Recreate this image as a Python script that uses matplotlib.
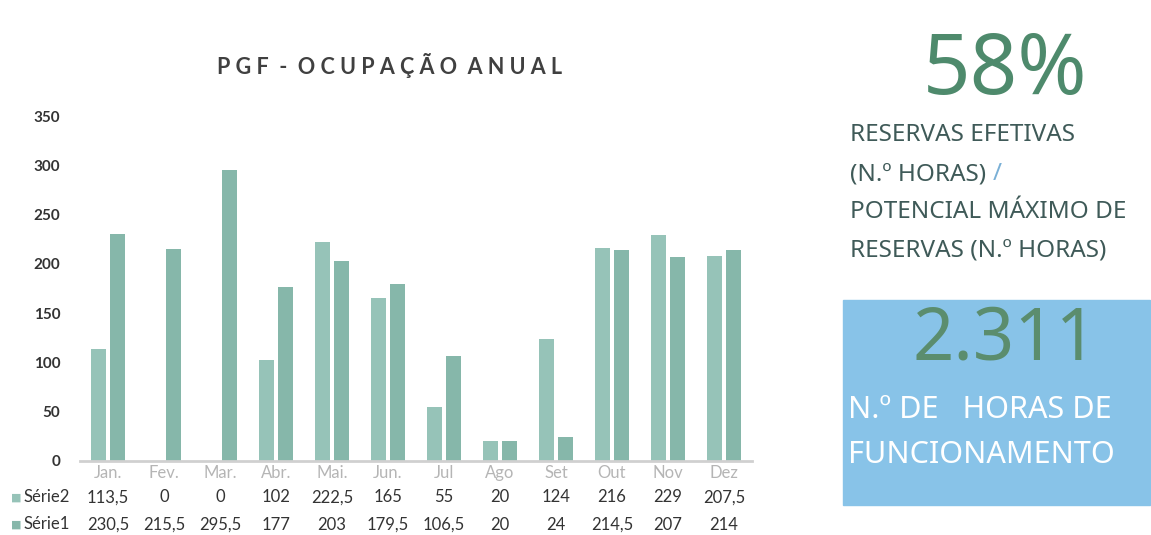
import matplotlib
matplotlib.use("Agg")
import matplotlib.pyplot as plt
from matplotlib.patches import Rectangle
from matplotlib.transforms import blended_transform_factory

# dados
meses = ["Jan.", "Fev.", "Mar.", "Abr.", "Mai.", "Jun.", "Jul", "Ago", "Set", "Out", "Nov", "Dez"]
serie2 = [113.5, 0, 0, 102, 222.5, 165, 55, 20, 124, 216, 229, 207.5]
serie1 = [230.5, 215.5, 295.5, 177, 203, 179.5, 106.5, 20, 24, 214.5, 207, 214]
yticks = [0, 50, 100, 150, 200, 250, 300, 350]
titulo = "PGF - OCUPAÇÃO ANUAL"
pct = "58%"
total_horas = "2.311"

W, H = 1151, 535
fig = plt.figure(figsize=(W / 100, H / 100), dpi=100)
plt.rcParams['font.family'] = ['Lato', 'DejaVu Sans']
fam_dir = ["Noto Sans", "DejaVu Sans"]

cor2 = "#96c3b8"
cor1 = "#86b7aa"

def px(x0, y0, x1, y1):
    # caixa em pixels -> coordenadas da figura
    return [x0 / W, 1 - y1 / H, (x1 - x0) / W, (y1 - y0) / H]

ax = fig.add_axes(px(80, 116, 752, 461))
x = list(range(len(meses)))
bw = 0.26
ax.bar([i - 0.165 for i in x], serie2, width=bw, color=cor2, label="Série2")
ax.bar([i + 0.165 for i in x], serie1, width=bw, color=cor1, label="Série1")
ax.set_xlim(-0.5, len(meses) - 0.5)
ax.set_ylim(0, 350)
ax.set_yticks(yticks)
ax.set_yticklabels([str(t) for t in yticks], fontsize=11, fontweight="bold", color="#333333")
ax.tick_params(axis="y", length=0, pad=14)
ax.set_xticks(x)
ax.set_xticklabels(meses, fontsize=12, color="#b5b5b5")
ax.tick_params(axis="x", length=0, pad=3)
for s in ["top", "right", "left"]:
    ax.spines[s].set_visible(False)
ax.spines["bottom"].set_color("#d0d0d0")
ax.spines["bottom"].set_linewidth(2)

# tabela de dados
tr = blended_transform_factory(ax.transData, ax.transAxes)
row_y = {"Série2": -0.105, "Série1": -0.185}
row_px = {"Série2": 497, "Série1": 524}
for nome, vals, cor in [("Série2", serie2, cor2), ("Série1", serie1, cor1)]:
    yy = row_y[nome]
    for i, v in enumerate(vals):
        s = ("%g" % v).replace(".", ",")
        ax.text(i, yy, s, transform=tr, ha="center", va="center", fontsize=12, color="#333333")
    fig.text(24 / W, 1 - row_px[nome] / H, nome, ha="left", va="center", fontsize=12, color="#333333")
    fig.text(11 / W, 1 - row_px[nome] / H, "■", ha="left", va="center", fontsize=8, color=cor)

# titulo
fig.text(390 / W, 1 - 66 / H, " ".join(titulo).replace("   ", "  "), ha="center", va="center",
         fontsize=15.5, fontweight="bold", color="#404040")

# painel direito
fig.text(1005 / W, 1 - 72 / H, pct, ha="center", va="center", fontsize=60,
         color="#4e8a6c", family=fam_dir)
linhas = ["RESERVAS EFETIVAS", "(N.º HORAS) ", "POTENCIAL MÁXIMO DE", "RESERVAS (N.º HORAS)"]
ys = [135, 174, 212, 250]
r = fig.canvas.get_renderer()
for t, yy in zip(linhas, ys):
    tx = fig.text(850 / W, 1 - yy / H, t, ha="left", va="center", fontsize=17.5,
                  color="#3f5a58", family=fam_dir)
    if t.startswith("(N"):
        bb = tx.get_window_extent(renderer=r)
        fig.text(bb.x1 / W, 1 - yy / H, "/", ha="left", va="center", fontsize=17.5,
                 color="#7ab0d6", family=fam_dir)

fig.patches.append(Rectangle((843 / W, 1 - 505 / H), (1150 - 843) / W, (505 - 300) / H,
                             transform=fig.transFigure, color="#88c3e8", zorder=0))
fig.text(1005 / W, 1 - 340 / H, total_horas, ha="center", va="center", fontsize=52,
         color="#5b8d6e", family=fam_dir)
fig.text(848 / W, 1 - 410 / H, "N.º DE   HORAS DE", ha="left", va="center", fontsize=22,
         color="white", family=fam_dir)
fig.text(848 / W, 1 - 455 / H, "FUNCIONAMENTO", ha="left", va="center", fontsize=22,
         color="white", family=fam_dir)

fig.savefig("out.png", dpi=100)
